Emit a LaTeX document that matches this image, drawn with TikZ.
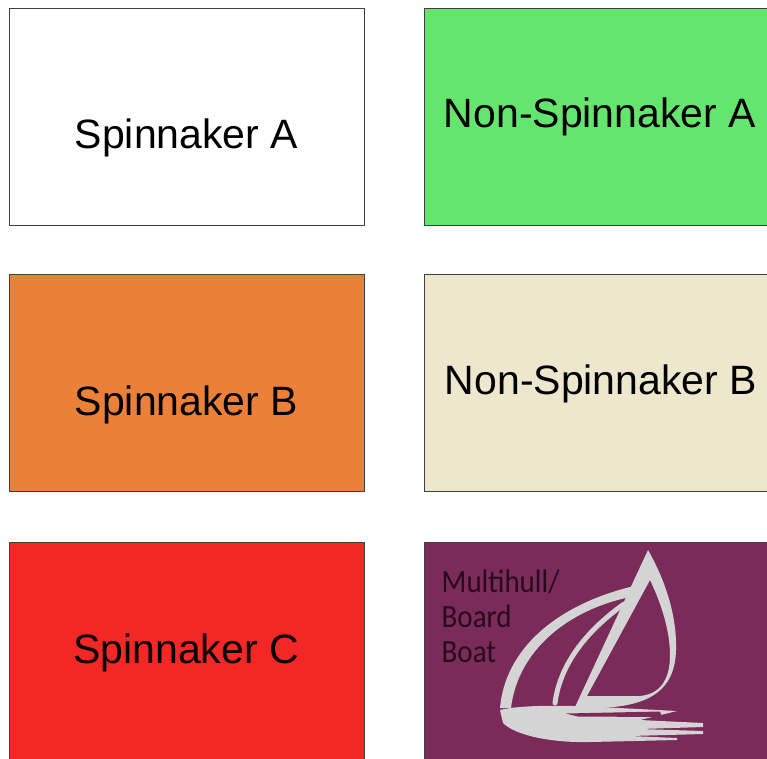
\documentclass[tikz,border=0pt]{standalone}
\usepackage{fontspec}
\setmainfont{Liberation Sans}
\newfontfamily\classfont{Carlito}
\usetikzlibrary{positioning,calc}

\definecolor{spinA}{RGB}{255,255,255}
\definecolor{nonspinA}{RGB}{100,230,110}
\definecolor{spinB}{RGB}{235,129,57}
\definecolor{nonspinB}{RGB}{237,232,205}
\definecolor{spinC}{RGB}{244,39,39}
\definecolor{multihull}{RGB}{122,43,89}
\definecolor{boatgray}{RGB}{212,212,212}
\definecolor{edgegray}{RGB}{64,64,64}
\definecolor{classink}{RGB}{40,10,30}

\tikzset{
  fleet/.style={draw=edgegray, line width=1.2pt, anchor=north west, inner sep=0pt,
    minimum width=355pt, minimum height=217pt},
  fleetname/.style={anchor=base, inner sep=0pt, font=\fontsize{41}{49}\selectfont},
  classname/.style={anchor=base west, inner sep=0pt, text=classink,
    font=\classfont\fontsize{29}{35}\selectfont}
}

\begin{document}
\begin{tikzpicture}[x=1pt, y=-1pt]
    \useasboundingbox (0,0) rectangle (767,758);
    \clip (0,0) rectangle (767,758);

    % Fleet boxes
    \node[fleet, fill=spinA] (spinA) at (9,8) {};
    \node[fleet, fill=nonspinA] (nonspinA) at (424,8) {};
    \node[fleet, fill=spinB] (spinB) at (9,274) {};
    \node[fleet, fill=nonspinB] (nonspinB) at (424,274) {};
    \node[fleet, fill=spinC] (spinC) at (9,542) {};
    \node[fleet, fill=multihull] (multi) at (424,542) {};

    % Fleet names
    \node[fleetname] (spinAname) at (186.5,148) {Spinnaker A};
    \node[fleetname] (nonspinAname) at (600,127.5) {Non-Spinnaker A};
    \node[fleetname] (spinBname) at (186.5,415) {Spinnaker B};
    \node[fleetname] (nonspinBname) at (601,394) {Non-Spinnaker B};
    \node[fleetname] (spinCname) at (186,663) {Spinnaker C};

    % Multihull label
    \node[classname] (multiA) at (441.5,592) {\scalebox{1}[1.12]{Multihull/}};
    \node[classname] (multiB) at (441.5,627) {\scalebox{1}[1.12]{Board}};
    \node[classname] (multiC) at (441.5,662) {\scalebox{1}[1.12]{Boat}};

    % Sailboat logo: main sail
    \fill[boatgray, even odd rule] (648,550) .. controls (665,580) and (677,615) .. (676,650)
        .. controls (675,690) and (650,706) .. (600,708) -- (575,707) -- cycle
        (650,580) .. controls (662,605) and (670,632) .. (670,655)
        .. controls (670,680) and (660,694) .. (640,696) -- (587,696) -- cycle;
    % jib
    \fill[boatgray] (500,708) .. controls (505,650) and (555,605) .. (634,586)
        -- (630,597) .. controls (568,610) and (518,650) .. (511,708) -- cycle;
    \draw[boatgray, line width=5pt, line cap=round] (555,703) .. controls (560,665) and (585,632) .. (624,604);
    % hull and wake
    \fill[boatgray] (500,710) .. controls (520,705) and (560,705) .. (600,707)
        -- (677,711) -- (640,720) -- (703,723) -- (703,727) -- (640,729)
        -- (703,731) -- (703,734) -- (630,736) -- (677,738) -- (677,740)
        -- (590,742) .. controls (550,743) and (515,735) .. (503,723) -- cycle;
    \fill[multihull] (566,713.5) -- (660,711.5) -- (662,717) -- (578,716.5) -- cycle;
\end{tikzpicture}
\end{document}
